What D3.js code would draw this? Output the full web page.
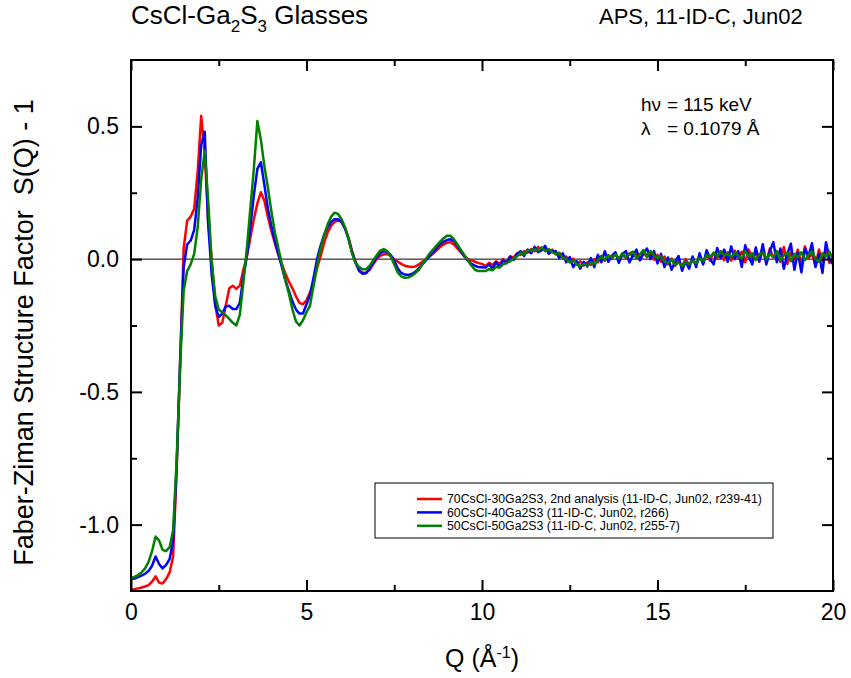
<!DOCTYPE html>
<html>
<head>
<meta charset="utf-8">
<script src="https://d3js.org/d3.v7.min.js"></script>
<style>
body { margin: 0; background: #fff; }
svg { font-family: "Liberation Sans", Arial, sans-serif; }
.line { fill: none; stroke-width: 2.5px; stroke-linejoin: round; }
.axis line { stroke: #000; stroke-width: 2px; }
.axis path { display: none; }
.axis text { font-size: 23px; fill: #000; }
</style>
</head>
<body>
<script>
// Set the dimensions of the canvas / graph
var margin = {top: 60, right: 18, bottom: 87, left: 131},
    width = 851 - margin.left - margin.right,
    height = 678 - margin.top - margin.bottom;

// ---------------- data ----------------
// Q grid (1/A), one value every 0.1
var qValues = [
  0.0,0.1,0.2,0.3,0.4,0.5,0.6,0.7,0.8,0.9,
  1.0,1.1,1.2,1.3,1.4,1.5,1.6,1.7,1.8,1.9,
  2.0,2.1,2.2,2.3,2.4,2.5,2.6,2.7,2.8,2.9,
  3.0,3.1,3.2,3.3,3.4,3.5,3.6,3.7,3.8,3.9,
  4.0,4.1,4.2,4.3,4.4,4.5,4.6,4.7,4.8,4.9,
  5.0,5.1,5.2,5.3,5.4,5.5,5.6,5.7,5.8,5.9,
  6.0,6.1,6.2,6.3,6.4,6.5,6.6,6.7,6.8,6.9,
  7.0,7.1,7.2,7.3,7.4,7.5,7.6,7.7,7.8,7.9,
  8.0,8.1,8.2,8.3,8.4,8.5,8.6,8.7,8.8,8.9,
  9.0,9.1,9.2,9.3,9.4,9.5,9.6,9.7,9.8,9.9,
  10.0,10.1,10.2,10.3,10.4,10.5,10.6,10.7,10.8,10.9,
  11.0,11.1,11.2,11.3,11.4,11.5,11.6,11.7,11.8,11.9,
  12.0,12.1,12.2,12.3,12.4,12.5,12.6,12.7,12.8,12.9,
  13.0,13.1,13.2,13.3,13.4,13.5,13.6,13.7,13.8,13.9,
  14.0,14.1,14.2,14.3,14.4,14.5,14.6,14.7,14.8,14.9,
  15.0,15.1,15.2,15.3,15.4,15.5,15.6,15.7,15.8,15.9,
  16.0,16.1,16.2,16.3,16.4,16.5,16.6,16.7,16.8,16.9,
  17.0,17.1,17.2,17.3,17.4,17.5,17.6,17.7,17.8,17.9,
  18.0,18.1,18.2,18.3,18.4,18.5,18.6,18.7,18.8,18.9,
  19.0,19.1,19.2,19.3,19.4,19.5,19.6,19.7,19.8,19.9,
  20.0
];

// 70CsCl-30Ga2S3
var sq70 = [
  -1.245,-1.243,-1.240,-1.237,-1.233,-1.228,-1.215,-1.195,-1.218,-1.222,
  -1.205,-1.180,-1.120,-0.800,-0.400,0.040,0.145,0.160,0.190,0.330,
  0.540,0.400,0.140,0.000,-0.170,-0.250,-0.240,-0.175,-0.110,-0.100,
  -0.112,-0.100,-0.040,0.010,0.080,0.150,0.210,0.252,0.220,0.160,
  0.105,0.060,0.015,-0.020,-0.055,-0.085,-0.110,-0.140,-0.165,-0.170,
  -0.155,-0.125,-0.095,-0.035,0.010,0.060,0.100,0.125,0.140,0.145,
  0.140,0.115,0.080,0.030,-0.010,-0.040,-0.052,-0.050,-0.040,-0.020,
  0.000,0.012,0.018,0.019,0.012,0.000,-0.010,-0.018,-0.025,-0.028,
  -0.030,-0.028,-0.020,-0.010,0.000,0.010,0.020,0.032,0.045,0.055,
  0.062,0.064,0.055,0.040,0.025,0.010,0.000,-0.005,-0.010,-0.015,
  -0.018,-0.026,-0.014,-0.022,-0.008,-0.018,0.000,-0.010,0.010,0.006,
  0.022,0.016,0.030,0.024,0.038,0.030,0.046,0.034,0.040,0.024,
  0.036,0.018,0.024,0.004,0.010,-0.012,0.002,-0.020,-0.008,-0.024,
  -0.012,-0.022,0.000,-0.012,0.012,-0.006,0.014,0.002,0.020,-0.002,
  0.016,0.004,0.022,0.010,0.018,-0.004,0.026,0.008,0.024,-0.002,
  0.016,-0.010,0.010,-0.020,0.002,-0.026,-0.006,-0.028,0.000,-0.022,
  -0.004,-0.020,0.008,-0.016,0.016,-0.006,0.024,0.002,0.030,-0.004,
  0.026,-0.006,0.032,0.004,0.028,-0.012,0.036,0.000,0.026,-0.010,
  0.034,-0.012,0.040,0.006,0.024,-0.010,0.046,-0.018,0.028,0.000,
  0.036,-0.020,0.048,0.002,0.022,-0.026,0.036,-0.008,0.042,-0.014,
  0.010
];

// 60CsCl-40Ga2S3
var sq60 = [
  -1.205,-1.203,-1.198,-1.192,-1.185,-1.175,-1.155,-1.120,-1.148,-1.165,
  -1.152,-1.130,-1.060,-0.780,-0.380,-0.030,0.055,0.070,0.110,0.230,
  0.430,0.480,0.130,-0.060,-0.175,-0.218,-0.205,-0.178,-0.176,-0.188,
  -0.188,-0.165,-0.070,0.010,0.120,0.240,0.340,0.365,0.280,0.190,
  0.125,0.065,0.020,-0.030,-0.080,-0.120,-0.160,-0.190,-0.205,-0.205,
  -0.170,-0.135,-0.070,0.000,0.050,0.090,0.120,0.140,0.150,0.150,
  0.140,0.115,0.075,0.025,-0.015,-0.045,-0.055,-0.053,-0.035,-0.015,
  0.008,0.022,0.030,0.028,0.015,-0.005,-0.035,-0.052,-0.058,-0.060,
  -0.056,-0.048,-0.035,-0.020,-0.005,0.010,0.025,0.040,0.055,0.065,
  0.072,0.075,0.068,0.050,0.030,0.010,-0.005,-0.018,-0.025,-0.030,
  -0.031,-0.032,-0.020,-0.036,-0.012,-0.030,-0.004,-0.016,0.010,-0.004,
  0.020,0.030,0.012,0.036,0.022,0.046,0.026,0.034,0.050,0.020,
  0.030,0.030,0.004,0.022,-0.012,0.008,-0.030,-0.008,-0.036,-0.010,
  -0.028,0.004,-0.030,0.016,-0.012,0.030,-0.010,0.012,0.026,-0.014,
  0.020,0.030,-0.012,0.014,0.036,-0.004,0.022,0.040,0.000,0.030,
  -0.016,0.020,-0.030,0.006,-0.040,-0.010,0.012,-0.044,-0.008,-0.036,
  0.010,-0.030,0.022,-0.020,0.034,0.000,-0.020,0.042,0.004,0.036,
  -0.010,0.048,0.000,0.030,-0.030,0.052,0.010,-0.020,0.044,-0.008,
  0.056,-0.020,0.030,0.064,-0.012,0.040,-0.036,0.020,0.058,-0.040,
  0.026,-0.050,0.040,0.010,0.060,-0.030,0.020,-0.052,0.064,0.000,
  -0.020
];

// 50CsCl-50Ga2S3
var sq50 = [
  -1.200,-1.197,-1.190,-1.180,-1.165,-1.140,-1.100,-1.045,-1.060,-1.095,
  -1.100,-1.085,-1.020,-0.760,-0.400,-0.120,-0.045,-0.020,0.020,0.120,
  0.300,0.409,0.220,-0.013,-0.140,-0.190,-0.200,-0.212,-0.225,-0.240,
  -0.250,-0.210,-0.090,0.040,0.190,0.340,0.520,0.450,0.350,0.270,
  0.180,0.100,0.040,-0.020,-0.080,-0.130,-0.190,-0.235,-0.250,-0.230,
  -0.200,-0.175,-0.100,-0.025,0.040,0.090,0.130,0.160,0.175,0.170,
  0.150,0.120,0.075,0.020,-0.015,-0.030,-0.038,-0.038,-0.025,-0.005,
  0.015,0.032,0.038,0.030,0.010,-0.020,-0.050,-0.065,-0.070,-0.069,
  -0.063,-0.053,-0.040,-0.020,0.000,0.020,0.035,0.050,0.065,0.078,
  0.088,0.088,0.075,0.055,0.035,0.015,-0.005,-0.025,-0.040,-0.045,
  -0.045,-0.045,-0.038,-0.042,-0.030,-0.032,-0.020,-0.014,-0.008,0.004,
  0.010,0.024,0.018,0.034,0.030,0.038,0.032,0.044,0.030,0.038,
  0.026,0.020,0.022,0.006,0.000,-0.012,-0.006,-0.020,-0.026,-0.018,
  -0.024,-0.012,-0.020,-0.004,0.008,-0.002,0.014,0.006,0.018,0.002,
  0.022,0.006,0.020,0.028,0.004,0.018,0.034,0.010,0.030,0.014,
  0.004,0.012,-0.008,-0.016,0.000,-0.022,-0.012,-0.026,-0.010,-0.020,
  -0.004,-0.016,0.004,-0.008,0.016,0.008,0.024,0.010,0.028,0.014,
  0.022,0.006,0.026,0.012,0.002,0.030,0.010,0.022,-0.004,0.018,
  0.026,0.000,0.020,0.008,0.030,-0.006,0.016,0.024,-0.008,0.020,
  0.006,0.026,-0.004,0.014,0.030,0.002,-0.010,0.022,0.010,0.028,
  0.000
];

var seriesColors = ["#ff0000", "#0000ff", "#008000"];
var seriesLabels = [
  "70CsCl-30Ga2S3, 2nd analysis (11-ID-C, Jun02, r239-41)",
  "60CsCl-40Ga2S3 (11-ID-C, Jun02, r266)",
  "50CsCl-50Ga2S3 (11-ID-C, Jun02, r255-7)"
];
var seriesValues = [sq70, sq60, sq50];

var xMajor = [0, 5, 10, 15, 20];
var xMinor = [2.5, 7.5, 12.5, 17.5];
var yMajor = [-1.0, -0.5, 0.0, 0.5];
var yMinor = [-0.75, -0.25, 0.25];

// ---------------- scales and svg ----------------
var x = d3.scaleLinear().domain([0, 20]).range([0, width]);
var y = d3.scaleLinear().domain([-1.25, 0.75]).range([height, 0]);

var root = d3.select("body").append("svg")
    .attr("width", width + margin.left + margin.right)
    .attr("height", height + margin.top + margin.bottom);

var svg = root.append("g")
    .attr("transform", "translate(" + margin.left + "," + margin.top + ")");

// clip so the curves stay in the frame
svg.append("clipPath").attr("id", "plotclip")
  .append("rect").attr("width", width).attr("height", height);

// zero line
svg.append("line")
    .attr("x1", 0).attr("x2", width)
    .attr("y1", y(0)).attr("y2", y(0))
    .style("stroke", "#000").style("stroke-width", 1);

// curves: red first, green on top
var valueline = d3.line()
    .x(function(d) { return x(d[0]); })
    .y(function(d) { return y(d[1]); });

seriesValues.forEach(function(vals, i) {
    var pts = qValues.map(function(q, j) { return [q, vals[j]]; });
    svg.append("path")
        .attr("class", "line")
        .attr("clip-path", "url(#plotclip)")
        .style("stroke", seriesColors[i])
        .attr("d", valueline(pts));
});

// -------------------------- axes, ticks pointing inwards ---------------
function fmt1(d) { return d.toFixed(1); }

svg.append("g").attr("class", "axis")
    .attr("transform", "translate(0," + height + ")")
    .call(d3.axisBottom(x).tickValues(xMajor).tickSize(-11).tickPadding(13)
        .tickFormat(function(d) { return d; }));
svg.append("g").attr("class", "axis")
    .attr("transform", "translate(0," + height + ")")
    .call(d3.axisBottom(x).tickValues(xMinor).tickSize(-6).tickFormat(""));
svg.append("g").attr("class", "axis")
    .call(d3.axisTop(x).tickValues(xMajor).tickSize(-11).tickFormat(""));
svg.append("g").attr("class", "axis")
    .call(d3.axisTop(x).tickValues(xMinor).tickSize(-6).tickFormat(""));

svg.append("g").attr("class", "axis")
    .call(d3.axisLeft(y).tickValues(yMajor).tickSize(-11).tickPadding(12).tickFormat(fmt1));
svg.append("g").attr("class", "axis")
    .call(d3.axisLeft(y).tickValues(yMinor).tickSize(-6).tickFormat(""));
svg.append("g").attr("class", "axis")
    .attr("transform", "translate(" + width + ",0)")
    .call(d3.axisRight(y).tickValues(yMajor).tickSize(-11).tickFormat(""));
svg.append("g").attr("class", "axis")
    .attr("transform", "translate(" + width + ",0)")
    .call(d3.axisRight(y).tickValues(yMinor).tickSize(-6).tickFormat(""));

// frame
svg.append("rect")
    .attr("width", width).attr("height", height)
    .style("fill", "none").style("stroke", "#000").style("stroke-width", 2);

// x axis label
var xl = root.append("text")
    .attr("x", margin.left + width / 2)
    .attr("y", 667)
    .style("text-anchor", "middle")
    .style("font-size", "25px");
xl.append("tspan").text("Q (\u00C5");
xl.append("tspan").attr("dy", -9).style("font-size", "16px").text("-1");
xl.append("tspan").attr("dy", 9).text(")");

// y axis label
root.append("text")
    .attr("transform", "translate(33," + (margin.top + height / 2 + 7) + ") rotate(-90)")
    .style("text-anchor", "middle")
    .style("font-size", "27px")
    .text("Faber-Ziman Structure Factor \u00A0S(Q) - 1");

// title
var tt = root.append("text")
    .attr("x", 131).attr("y", 24)
    .style("font-size", "26px");
tt.append("tspan").text("CsCl-Ga");
tt.append("tspan").attr("dy", 8).style("font-size", "17px").text("2");
tt.append("tspan").attr("dy", -8).text("S");
tt.append("tspan").attr("dy", 8).style("font-size", "17px").text("3");
tt.append("tspan").attr("dy", -8).text(" Glasses");

root.append("text")
    .attr("x", 599).attr("y", 24)
    .style("font-size", "22px")
    .text("APS, 11-ID-C, Jun02");

// beam annotation
var notes = [["h\u03BD", "= 115 keV"], ["\u03BB", "= 0.1079 \u00C5"]];
notes.forEach(function(n, i) {
    root.append("text").attr("x", 641).attr("y", 111 + i * 24)
        .style("font-size", "19px").text(n[0]);
    root.append("text").attr("x", 667).attr("y", 111 + i * 24)
        .style("font-size", "19px").text(n[1]);
});

// legend
var legend = root.append("g");
legend.append("rect")
    .attr("x", 375).attr("y", 483).attr("width", 398).attr("height", 55)
    .style("fill", "#fff").style("stroke", "#000").style("stroke-width", 1);
seriesLabels.forEach(function(lab, i) {
    var ly = 499 + i * 13.4;
    legend.append("line")
        .attr("x1", 417).attr("x2", 442).attr("y1", ly).attr("y2", ly)
        .style("stroke", seriesColors[i]).style("stroke-width", 2.5);
    legend.append("text")
        .attr("x", 447).attr("y", ly + 4.3)
        .style("font-size", "12.3px")
        .text(lab);
});
</script>
</body>
</html>
